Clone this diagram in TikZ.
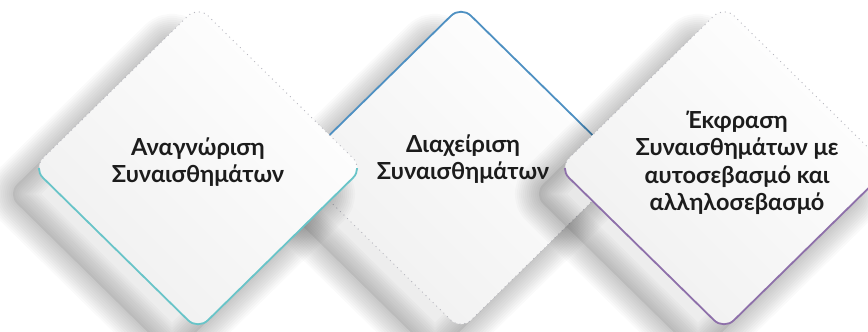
\documentclass[tikz,border=0pt]{standalone}
\usepackage{fontspec}
\setmainfont{Lato}
\usepackage{tikz}
\usetikzlibrary{calc}
\definecolor{edgeteal}{RGB}{104, 196, 200}
\definecolor{edgeblue}{RGB}{78, 144, 194}
\definecolor{edgepurple}{RGB}{142, 112, 170}
\definecolor{dotgray}{RGB}{182, 182, 190}
\definecolor{textdark}{RGB}{28, 28, 28}

% outline of one card, centred at x = \cx
\newcommand{\diamondoutline}{(\cx-82.5,87) -- (\cx,6) -- (\cx+165,168) -- (\cx,330) -- (\cx-165,168) -- cycle}

\tikzset{
    cardfill/.style={top color=white, bottom color=black!6, shading angle=-45, rounded corners=14pt},
    shadowlayer/.style={draw=black, opacity=0.02, line join=round, rounded corners=14pt},
    dotedge/.style={draw=dotgray, line width=1.3pt, line cap=round, dash pattern=on 0pt off 5pt, rounded corners=14pt},
    accentedge/.style={line width=1.8pt, rounded corners=14pt},
    cardtext/.style={font=\bfseries\fontsize{23.5}{27.5}\selectfont, text=textdark, align=center}
}

\begin{document}
\begin{tikzpicture}[x=1pt, y=-1pt]
    \useasboundingbox (0,0) rectangle (868,332);
    \clip (0,0) rectangle (868,332);

    % Cards (middle one first, the two outer ones lie on top of it)
    \foreach \cx/\col/\ya/\yb/\da/\db in {461/edgeblue/-10/168/168/340, 198/edgeteal/168/340/-10/168, 724/edgepurple/168/340/-10/168} {
        % soft shadow, down and to the left
        \foreach \w in {48,44,...,4}
            \draw[shadowlayer, line width=\w pt, shift={(-26,26)}] \diamondoutline;
        \fill[black, opacity=0.07, rounded corners=14pt, shift={(-26,26)}] \diamondoutline;
        \shade[cardfill] \diamondoutline;
        \begin{scope}
            \clip (-10,\da) rectangle (900,\db);
            \draw[dotedge] \diamondoutline;
        \end{scope}
        \begin{scope}
            \clip (-10,\ya) rectangle (900,\yb);
            \draw[accentedge, draw=\col] \diamondoutline;
        \end{scope}
    }

    % Labels
    \node[cardtext] (recog) at (198,162) {Αναγνώριση\\Συναισθημάτων};
    \node[cardtext] (manage) at (463,159) {Διαχείριση\\Συναισθημάτων};
    \node[cardtext] (express) at (737,163) {Έκφραση\\Συναισθημάτων με\\αυτοσεβασμό και\\αλληλοσεβασμό};
\end{tikzpicture}
\end{document}
